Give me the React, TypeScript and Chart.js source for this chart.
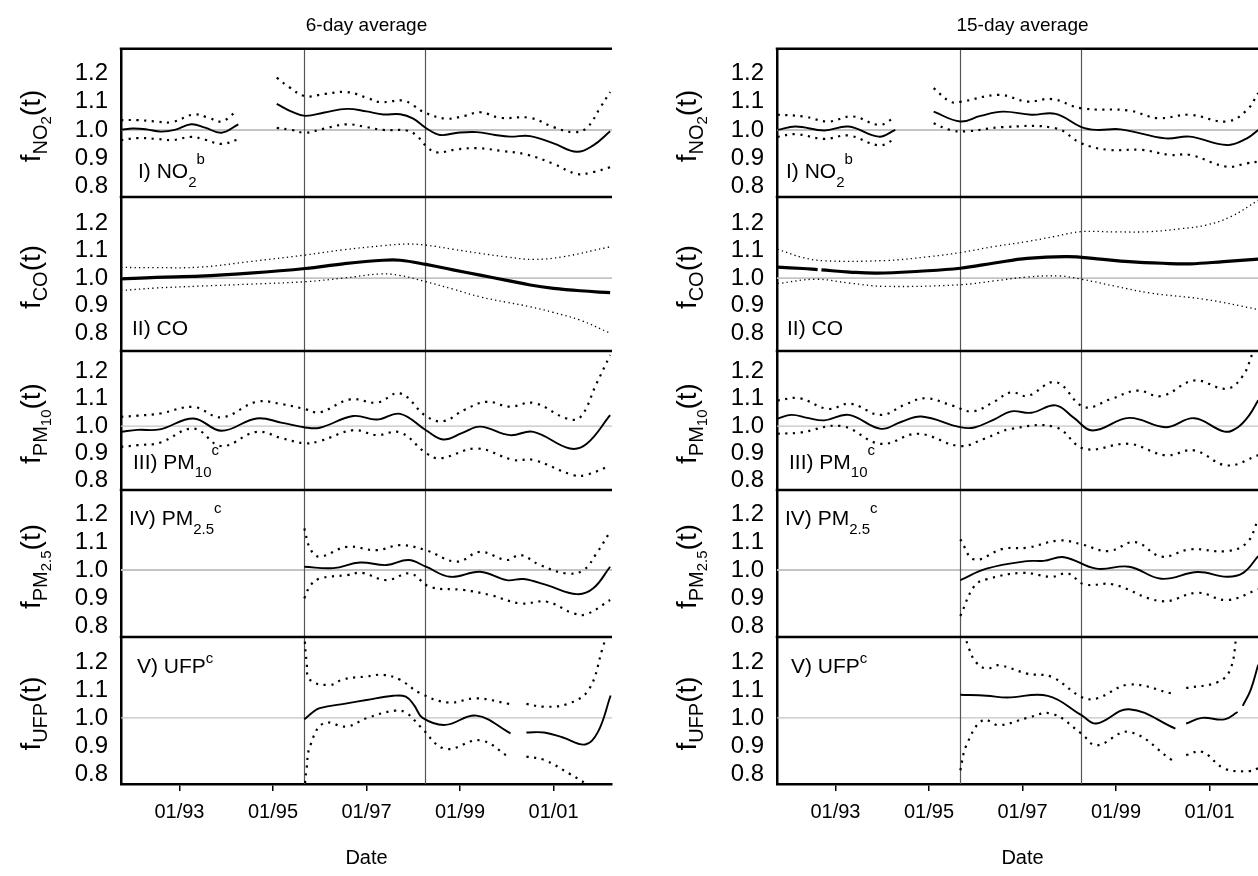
import React, { useEffect, useRef } from 'react';
import { Chart, registerables } from 'chart.js';

Chart.register(...registerables);

type Pt = [number, number | null];
type Seg = { t: string; s: number; dy?: number };

// ---------------- axes / categories ----------------
const X_MIN = 1991.75;
const X_MAX = 2002.25;
const XTICK_VALUES = [1993, 1995, 1997, 1999, 2001];
const XTICK_LABELS = ['01/93', '01/95', '01/97', '01/99', '01/01'];
const YTICK_VALUES = [0.8, 0.9, 1.0, 1.1, 1.2];
const REFERENCE_LEVEL = 1.0;
const EVENT_DATES = [1995.67, 1998.26];
const COLUMN_TITLES = ['6-day average', '15-day average'];
const X_TITLE = 'Date';

// ---------------- 6-day average (left column) ----------------
const L_NO2_EST: Pt[] = [[1991.75, 1.0], [1992.0, 1.005], [1992.3, 1.002], [1992.6, 0.994], [1992.9, 1.0], [1993.25, 1.02], [1993.55, 1.008], [1993.9, 0.99], [1994.26, 1.02], [1994.6, null], [1995.08, 1.093], [1995.4, 1.065], [1995.69, 1.05], [1996.1, 1.062], [1996.58, 1.075], [1997.0, 1.066], [1997.36, 1.055], [1997.72, 1.056], [1998.0, 1.04], [1998.27, 1.007], [1998.57, 0.982], [1998.95, 0.99], [1999.36, 0.992], [1999.75, 0.982], [2000.07, 0.976], [2000.5, 0.978], [2001.0, 0.952], [2001.5, 0.922], [2001.85, 0.945], [2002.21, 0.995]];
const L_NO2_HI: Pt[] = [[1991.75, 1.035], [1992.1, 1.035], [1992.5, 1.03], [1992.85, 1.028], [1993.3, 1.055], [1993.6, 1.045], [1993.9, 1.03], [1994.22, 1.067], [1994.6, null], [1995.08, 1.186], [1995.35, 1.152], [1995.69, 1.12], [1996.1, 1.128], [1996.58, 1.135], [1997.0, 1.115], [1997.29, 1.099], [1997.79, 1.105], [1998.0, 1.087], [1998.27, 1.06], [1998.71, 1.04], [1999.1, 1.05], [1999.43, 1.063], [1999.86, 1.043], [2000.5, 1.043], [2001.0, 1.01], [2001.43, 0.992], [2001.71, 1.007], [2002.0, 1.08], [2002.21, 1.135]];
const L_NO2_LO: Pt[] = [[1991.75, 0.964], [1992.1, 0.971], [1992.5, 0.968], [1992.85, 0.964], [1993.25, 0.975], [1993.55, 0.965], [1993.9, 0.95], [1994.22, 0.964], [1994.6, null], [1995.08, 1.007], [1995.4, 1.0], [1995.69, 0.99], [1996.1, 1.005], [1996.58, 1.02], [1997.0, 1.01], [1997.36, 1.0], [1997.86, 0.998], [1998.07, 0.98], [1998.29, 0.94], [1998.5, 0.92], [1998.9, 0.93], [1999.36, 0.935], [1999.9, 0.925], [2000.43, 0.912], [2001.0, 0.879], [2001.5, 0.843], [2001.85, 0.85], [2002.21, 0.867]];

const L_CO_EST: Pt[] = [[1991.75, 0.997], [1992.5, 1.003], [1993.44, 1.007], [1994.5, 1.018], [1995.69, 1.035], [1996.5, 1.052], [1997.36, 1.065], [1997.72, 1.065], [1998.27, 1.05], [1998.85, 1.03], [1999.43, 1.011], [2000.0, 0.992], [2000.5, 0.975], [2001.0, 0.963], [2001.57, 0.954], [2002.21, 0.947]];
const L_CO_HI: Pt[] = [[1991.75, 1.039], [1992.5, 1.038], [1993.44, 1.04], [1994.5, 1.06], [1995.69, 1.084], [1996.5, 1.103], [1997.36, 1.118], [1997.86, 1.124], [1998.27, 1.12], [1998.85, 1.105], [1999.43, 1.09], [2000.0, 1.077], [2000.57, 1.068], [2001.21, 1.078], [2002.21, 1.114]];
const L_CO_LO: Pt[] = [[1991.75, 0.955], [1992.5, 0.964], [1993.44, 0.971], [1994.5, 0.978], [1995.69, 0.987], [1996.5, 1.0], [1997.29, 1.015], [1997.7, 1.01], [1998.27, 0.987], [1998.85, 0.96], [1999.43, 0.932], [2000.0, 0.912], [2000.5, 0.896], [2001.0, 0.875], [2001.57, 0.847], [2002.21, 0.8]];

const L_PM10_EST: Pt[] = [[1991.75, 0.979], [1992.1, 0.986], [1992.58, 0.988], [1993.3, 1.028], [1993.9, 0.983], [1994.65, 1.028], [1995.2, 1.012], [1995.69, 0.995], [1996.0, 0.994], [1996.72, 1.037], [1997.22, 1.024], [1997.72, 1.045], [1998.27, 0.985], [1998.64, 0.951], [1999.05, 0.975], [1999.43, 0.998], [2000.07, 0.967], [2000.57, 0.979], [2001.35, 0.918], [2001.71, 0.935], [2002.21, 1.04]];
const L_PM10_HI: Pt[] = [[1991.75, 1.034], [1992.1, 1.038], [1992.58, 1.046], [1993.3, 1.07], [1993.9, 1.032], [1994.65, 1.089], [1995.2, 1.08], [1995.69, 1.062], [1996.0, 1.05], [1996.65, 1.098], [1997.22, 1.086], [1997.72, 1.12], [1998.27, 1.037], [1998.64, 1.018], [1999.1, 1.06], [1999.57, 1.089], [2000.07, 1.071], [2000.57, 1.085], [2001.28, 1.028], [2001.57, 1.032], [2001.92, 1.156], [2002.21, 1.26]];
const L_PM10_LO: Pt[] = [[1991.75, 0.924], [1992.1, 0.93], [1992.58, 0.939], [1993.3, 0.991], [1993.9, 0.927], [1994.65, 0.979], [1995.2, 0.955], [1995.69, 0.937], [1996.0, 0.945], [1996.72, 0.985], [1997.22, 0.967], [1997.72, 0.977], [1998.27, 0.902], [1998.57, 0.882], [1999.36, 0.918], [2000.14, 0.876], [2000.57, 0.876], [2001.43, 0.82], [2001.71, 0.822], [2002.21, 0.855]];

const L_PM25_EST: Pt[] = [[1995.67, 1.012], [1996.29, 1.007], [1996.86, 1.027], [1997.43, 1.018], [1997.9, 1.036], [1998.27, 1.012], [1998.79, 0.976], [1999.43, 0.994], [2000.0, 0.964], [2000.36, 0.968], [2000.86, 0.946], [2001.5, 0.914], [2001.85, 0.935], [2002.21, 1.012]];
const L_PM25_HI: Pt[] = [[1995.67, 1.149], [1995.8, 1.075], [1996.0, 1.048], [1996.58, 1.083], [1997.22, 1.071], [1997.72, 1.089], [1998.27, 1.071], [1998.93, 1.03], [1999.43, 1.065], [2000.0, 1.036], [2000.29, 1.054], [2000.71, 1.018], [2001.28, 0.988], [2001.64, 1.0], [2001.92, 1.06], [2002.21, 1.137]];
const L_PM25_LO: Pt[] = [[1995.67, 0.899], [1995.8, 0.945], [1996.0, 0.97], [1996.58, 0.982], [1996.9, 0.99], [1997.43, 0.964], [1997.93, 0.988], [1998.36, 0.94], [1999.07, 0.929], [1999.64, 0.911], [2000.29, 0.881], [2000.86, 0.887], [2001.43, 0.845], [2001.71, 0.843], [2002.21, 0.893]];

const L_UFP_EST: Pt[] = [[1995.67, 0.995], [1995.85, 1.02], [1996.0, 1.035], [1996.58, 1.052], [1997.0, 1.064], [1997.57, 1.079], [1997.84, 1.076], [1998.02, 1.045], [1998.2, 1.0], [1998.68, 0.975], [1999.35, 1.008], [2000.08, 0.945], [2000.25, null], [2000.42, 0.948], [2000.8, 0.948], [2001.2, 0.93], [2001.68, 0.905], [2001.95, 0.95], [2002.22, 1.08]];
const L_UFP_HI: Pt[] = [[1995.67, 1.3], [1995.72, 1.2], [1995.79, 1.136], [1996.22, 1.118], [1996.5, 1.138], [1997.0, 1.148], [1997.36, 1.154], [1997.72, 1.136], [1998.15, 1.088], [1998.75, 1.055], [1999.35, 1.07], [2000.05, 1.05], [2000.25, null], [2000.42, 1.05], [2000.8, 1.04], [2001.3, 1.05], [2001.75, 1.1], [2002.05, 1.25], [2002.15, 1.31]];
const L_UFP_LO: Pt[] = [[1995.67, 0.74], [1995.72, 0.82], [1995.79, 0.898], [1996.08, 0.981], [1996.58, 0.969], [1997.0, 0.999], [1997.61, 1.026], [1997.86, 1.017], [1998.15, 0.969], [1998.68, 0.89], [1999.43, 0.92], [2000.05, 0.86], [2000.25, null], [2000.42, 0.862], [2000.8, 0.85], [2001.35, 0.8], [2001.7, 0.765], [2002.0, 0.74]];

// ---------------- 15-day average (right column) ----------------
const R_NO2_EST: Pt[] = [[1991.76, 1.0], [1992.15, 1.012], [1992.76, 0.998], [1993.28, 1.012], [1993.93, 0.976], [1994.28, 1.0], [1994.7, null], [1995.1, 1.065], [1995.67, 1.03], [1996.1, 1.05], [1996.58, 1.065], [1997.19, 1.054], [1997.71, 1.057], [1998.26, 1.01], [1998.58, 1.0], [1999.1, 1.002], [2000.06, 0.97], [2000.58, 0.976], [2001.37, 0.946], [2001.8, 0.97], [2002.04, 1.0]];
const R_NO2_HI: Pt[] = [[1991.76, 1.054], [1992.32, 1.048], [1992.84, 1.03], [1993.37, 1.048], [1993.93, 1.018], [1994.25, 1.042], [1994.7, null], [1995.1, 1.149], [1995.45, 1.101], [1995.67, 1.1], [1996.5, 1.125], [1997.1, 1.101], [1997.63, 1.11], [1998.26, 1.077], [1999.28, 1.069], [1999.89, 1.042], [2000.58, 1.054], [2001.37, 1.03], [2001.8, 1.071], [2002.04, 1.131]];
const R_NO2_LO: Pt[] = [[1991.76, 0.975], [1992.15, 0.985], [1992.76, 0.968], [1993.28, 0.98], [1993.93, 0.945], [1994.25, 0.965], [1994.7, null], [1995.1, 1.024], [1995.45, 1.0], [1995.8, 0.995], [1996.58, 1.01], [1997.71, 1.006], [1998.26, 0.952], [1998.84, 0.929], [1999.54, 0.929], [2000.15, 0.911], [2000.58, 0.911], [2001.37, 0.869], [2001.8, 0.881], [2002.04, 0.887]];

const R_CO_EST: Pt[] = [[1991.76, 1.04], [1992.3, 1.035], [1992.62, 1.031], [1992.66, null], [1992.7, 1.03], [1993.3, 1.022], [1993.89, 1.018], [1994.8, 1.025], [1995.67, 1.036], [1996.4, 1.055], [1997.1, 1.072], [1997.97, 1.078], [1998.6, 1.07], [1999.28, 1.06], [2000.0, 1.054], [2000.58, 1.052], [2001.3, 1.06], [2002.04, 1.069]];
const R_CO_HI: Pt[] = [[1991.76, 1.105], [1992.3, 1.075], [1992.76, 1.063], [1994.06, 1.064], [1995.0, 1.078], [1995.67, 1.093], [1996.4, 1.115], [1997.1, 1.133], [1997.7, 1.152], [1998.26, 1.169], [1999.0, 1.168], [1999.72, 1.169], [2000.4, 1.18], [2000.93, 1.193], [2001.45, 1.223], [2002.04, 1.283]];
const R_CO_LO: Pt[] = [[1991.76, 0.98], [1992.58, 0.996], [1993.3, 0.982], [1994.06, 0.97], [1995.67, 0.976], [1996.4, 0.99], [1997.1, 1.004], [1997.79, 1.008], [1998.26, 0.996], [1999.0, 0.97], [1999.72, 0.946], [2000.93, 0.922], [2002.04, 0.886]];

const R_PM10_EST: Pt[] = [[1991.76, 1.027], [1992.06, 1.041], [1992.4, 1.03], [1992.76, 1.021], [1993.28, 1.041], [1993.97, 0.99], [1994.4, 1.015], [1994.84, 1.035], [1995.67, 0.996], [1995.97, 0.995], [1996.4, 1.025], [1996.76, 1.054], [1997.19, 1.049], [1997.71, 1.076], [1998.1, 1.03], [1998.5, 0.984], [1999.28, 1.03], [2000.06, 0.996], [2000.67, 1.029], [2001.32, 0.98], [2001.6, 0.995], [2001.85, 1.04], [2002.04, 1.095]];
const R_PM10_HI: Pt[] = [[1991.76, 1.094], [1992.23, 1.102], [1992.84, 1.063], [1993.32, 1.082], [1993.97, 1.041], [1994.5, 1.08], [1994.93, 1.102], [1995.5, 1.075], [1995.93, 1.054], [1996.4, 1.09], [1996.76, 1.124], [1997.1, 1.11], [1997.71, 1.161], [1998.32, 1.07], [1998.9, 1.1], [1999.45, 1.13], [1999.97, 1.11], [2000.67, 1.167], [2001.37, 1.137], [2001.72, 1.186], [2001.93, 1.27], [2002.04, 1.3]];
const R_PM10_LO: Pt[] = [[1991.76, 0.972], [1992.23, 0.976], [1993.13, 1.0], [1993.97, 0.935], [1994.76, 0.972], [1995.67, 0.927], [1996.2, 0.955], [1996.76, 0.99], [1997.71, 0.996], [1998.32, 0.917], [1999.28, 0.935], [2000.06, 0.893], [2000.67, 0.911], [2001.37, 0.856], [2002.04, 0.893]];

const R_PM25_EST: Pt[] = [[1995.67, 0.964], [1996.23, 1.005], [1997.1, 1.032], [1997.45, 1.033], [1997.89, 1.046], [1998.58, 1.005], [1999.28, 1.012], [1999.97, 0.969], [2000.75, 0.993], [2001.37, 0.976], [2001.72, 0.99], [2002.04, 1.05]];
const R_PM25_HI: Pt[] = [[1995.67, 1.11], [1995.97, 1.038], [1996.58, 1.076], [1997.1, 1.08], [1997.8, 1.106], [1998.26, 1.092], [1998.84, 1.068], [1999.41, 1.1], [1999.97, 1.048], [2000.58, 1.074], [2001.37, 1.068], [2001.8, 1.098], [2002.04, 1.181]];
const R_PM25_LO: Pt[] = [[1995.67, 0.836], [1995.97, 0.943], [1996.23, 0.967], [1997.0, 0.99], [1997.63, 0.976], [1997.97, 0.988], [1998.32, 0.949], [1998.93, 0.949], [1999.97, 0.889], [2000.75, 0.919], [2001.37, 0.893], [2002.04, 0.931]];

const R_UFP_EST: Pt[] = [[1995.67, 1.083], [1996.23, 1.079], [1996.67, 1.073], [1997.54, 1.079], [1998.26, 1.01], [1998.58, 0.98], [1999.28, 1.031], [2000.27, 0.962], [2000.38, null], [2000.5, 0.98], [2000.84, 1.0], [2001.32, 0.995], [2001.6, 1.021], [2001.65, null], [2001.71, 1.043], [2001.88, 1.1], [2002.04, 1.19]];
const R_UFP_HI: Pt[] = [[1995.76, 1.3], [1995.85, 1.25], [1996.0, 1.2], [1996.23, 1.176], [1996.5, 1.188], [1997.1, 1.158], [1997.63, 1.146], [1998.26, 1.075], [1998.58, 1.069], [1999.28, 1.119], [2000.2, 1.087], [2000.38, null], [2000.5, 1.107], [2001.19, 1.129], [2001.45, 1.176], [2001.58, 1.3]];
const R_UFP_LO: Pt[] = [[1995.67, 0.813], [1995.8, 0.902], [1996.15, 0.992], [1996.5, 0.974], [1997.1, 1.0], [1997.63, 1.015], [1998.26, 0.944], [1998.58, 0.902], [1999.28, 0.95], [2000.2, 0.849], [2000.38, null], [2000.5, 0.867], [2000.84, 0.879], [2001.32, 0.819], [2001.84, 0.81], [2002.04, 0.82]];

// ---------------- texts ----------------
const Y_TITLES: Seg[][] = [
  [{ t: 'f', s: 28 }, { t: 'NO', s: 20, dy: 7 }, { t: '2', s: 15, dy: 11 }, { t: '(t)', s: 28 }],
  [{ t: 'f', s: 28 }, { t: 'CO', s: 20, dy: 7 }, { t: '(t)', s: 28 }],
  [{ t: 'f', s: 28 }, { t: 'PM', s: 20, dy: 7 }, { t: '10', s: 15, dy: 11 }, { t: '(t)', s: 28 }],
  [{ t: 'f', s: 28 }, { t: 'PM', s: 20, dy: 7 }, { t: '2.5', s: 15, dy: 11 }, { t: '(t)', s: 28 }],
  [{ t: 'f', s: 28 }, { t: 'UFP', s: 20, dy: 7 }, { t: '(t)', s: 28 }],
];
const PANEL_LABELS: Seg[][] = [
  [{ t: 'I) NO', s: 21 }, { t: '2', s: 15, dy: 9 }, { t: 'b', s: 15, dy: -14 }],
  [{ t: 'II) CO', s: 21 }],
  [{ t: 'III) PM', s: 21 }, { t: '10', s: 15, dy: 8 }, { t: 'c', s: 15, dy: -14 }],
  [{ t: 'IV) PM', s: 21 }, { t: '2.5', s: 15, dy: 9 }, { t: 'c', s: 15, dy: -12 }],
  [{ t: 'V) UFP', s: 21 }, { t: 'c', s: 15, dy: -10 }],
];

const SERIES: Pt[][][][] = [
  [
    [L_NO2_EST, L_NO2_LO, L_NO2_HI],
    [L_CO_EST, L_CO_LO, L_CO_HI],
    [L_PM10_EST, L_PM10_LO, L_PM10_HI],
    [L_PM25_EST, L_PM25_LO, L_PM25_HI],
    [L_UFP_EST, L_UFP_LO, L_UFP_HI],
  ],
  [
    [R_NO2_EST, R_NO2_LO, R_NO2_HI],
    [R_CO_EST, R_CO_LO, R_CO_HI],
    [R_PM10_EST, R_PM10_LO, R_PM10_HI],
    [R_PM25_EST, R_PM25_LO, R_PM25_HI],
    [R_UFP_EST, R_UFP_LO, R_UFP_HI],
  ],
];

// ---------------- layout ----------------
const FONT = "'Liberation Sans', Arial, Helvetica, sans-serif";
const PAGE_W = 1258;
const PAGE_H = 876;
const COL_LEFT = [0, 656];
const AXIS_W = 121;
const CANVAS_W = 620;
const PAD = 3;
const PANEL_TOP = [49, 197, 351, 490, 637];
const PANEL_BOTTOM = [197, 351, 490, 637, 784];
const Y_RANGE = [[0.761, 1.289], [0.735, 1.295], [0.766, 1.275], [0.761, 1.286], [0.764, 1.289]];
const LABEL_DX = [[17, 11, 12, 8, 16], [9, 10, 12, 8, 14]];
const LABEL_BASE = [178, 335, 469, 525, 673];
const TITLE_X = 40;
const REF_WIDTH = [2, 1.6, 1.4, 2, 1.2];

function drawSegs(ctx: CanvasRenderingContext2D, x: number, y: number, segs: Seg[]) {
  let cx = x;
  for (const s of segs) {
    ctx.font = `${s.s}px ${FONT}`;
    ctx.fillText(s.t, cx, y + (s.dy || 0));
    cx += ctx.measureText(s.t).width;
  }
}
function segsWidth(ctx: CanvasRenderingContext2D, segs: Seg[]) {
  let w = 0;
  for (const s of segs) {
    ctx.font = `${s.s}px ${FONT}`;
    w += ctx.measureText(s.t).width;
  }
  return w;
}

const decorPlugin = {
  id: 'panelDecor',
  beforeDatasetsDraw(chart: any, _a: any, opts: any) {
    const { ctx, chartArea: a, scales } = chart;
    const x = scales.x, y = scales.y;
    ctx.save();
    ctx.strokeStyle = '#c4c4c4';
    ctx.lineWidth = opts.refWidth;
    const yy = y.getPixelForValue(REFERENCE_LEVEL);
    ctx.beginPath(); ctx.moveTo(a.left, yy); ctx.lineTo(a.right, yy); ctx.stroke();
    ctx.strokeStyle = '#555';
    ctx.lineWidth = 1.2;
    for (const d of EVENT_DATES) {
      const px = Math.round(x.getPixelForValue(d)) + 0.5;
      ctx.beginPath(); ctx.moveTo(px, a.top); ctx.lineTo(px, a.bottom); ctx.stroke();
    }
    ctx.restore();
  },
  afterDraw(chart: any, _a: any, opts: any) {
    const { ctx, chartArea: a } = chart;
    ctx.save();
    ctx.strokeStyle = '#000';
    ctx.lineWidth = 2.5;
    ctx.beginPath(); ctx.moveTo(a.left - 1.25, a.top); ctx.lineTo(a.right, a.top); ctx.stroke();
    ctx.fillStyle = '#000';
    ctx.textBaseline = 'alphabetic';
    ctx.textAlign = 'left';
    drawSegs(ctx, a.left + opts.labelDx, opts.labelY, opts.label);
    ctx.translate(TITLE_X, opts.titleY);
    ctx.rotate(-Math.PI / 2);
    const w = segsWidth(ctx, opts.title);
    drawSegs(ctx, -w / 2, 0, opts.title);
    ctx.restore();
  },
};

function Panel({ col, idx }: { col: number; idx: number }) {
  const ref = useRef<HTMLCanvasElement>(null);
  const isFirst = idx === 0;
  const isLast = idx === 4;
  const canvasTop = isFirst ? 0 : PANEL_TOP[idx] - PAD;
  const canvasBottom = isLast ? PAGE_H : PANEL_BOTTOM[idx] + PAD;
  const h = canvasBottom - canvasTop;

  useEffect(() => {
    const [est, lo, hi] = SERIES[col][idx];
    const thickCO = idx === 1;
    const toXY = (arr: Pt[]) => arr.map(([x, y]) => ({ x, y }));
    const dotted = (arr: Pt[]) => ({
      data: toXY(arr),
      borderColor: '#000',
      borderWidth: thickCO ? 1.3 : 2.2,
      borderDash: thickCO ? [1.3, 3.2] : [2.2, 5.5],
      pointRadius: 0,
      tension: 0.4,
      spanGaps: false,
      clip: 0,
    });
    const chart = new Chart(ref.current as HTMLCanvasElement, {
      type: 'line',
      data: {
        datasets: [
          dotted(lo),
          dotted(hi),
          {
            data: toXY(est),
            borderColor: '#000',
            borderWidth: thickCO ? 3.2 : 1.9,
            pointRadius: 0,
            tension: 0.4,
            spanGaps: false,
            clip: 0,
          },
        ] as any,
      },
      options: {
        animation: false,
        responsive: false,
        maintainAspectRatio: false,
        events: [],
        layout: { padding: { top: isFirst ? 0 : PAD, bottom: isLast ? 0 : PAD, left: 0, right: 8 } },
        plugins: {
          legend: { display: false },
          tooltip: { enabled: false },
          title: {
            display: isFirst,
            text: COLUMN_TITLES[col],
            fullSize: false,
            color: '#000',
            font: { family: FONT, size: 19, weight: 'normal' },
            padding: { top: 14, bottom: 12 },
          },
          panelDecor: {
            refWidth: REF_WIDTH[idx],
            label: PANEL_LABELS[idx],
            labelDx: LABEL_DX[col][idx],
            labelY: LABEL_BASE[idx] - canvasTop,
            title: Y_TITLES[idx],
            titleY: (PANEL_TOP[idx] + PANEL_BOTTOM[idx]) / 2 + 3 - canvasTop,
          },
        } as any,
        scales: {
          x: {
            type: 'linear',
            min: X_MIN,
            max: X_MAX,
            display: isLast,
            afterBuildTicks: (s: any) => {
              s.ticks = XTICK_VALUES.map((v) => ({ value: v }));
            },
            afterFit: (s: any) => {
              s.height = isLast ? PAGE_H - PANEL_BOTTOM[4] : 0;
              s.paddingLeft = 0;
              s.paddingRight = 0;
            },
            ticks: {
              autoSkip: false,
              maxRotation: 0,
              color: '#000',
              padding: 9,
              font: { family: FONT, size: 20 },
              callback: (v: any) => {
                const i = XTICK_VALUES.indexOf(Number(v));
                return i >= 0 ? XTICK_LABELS[i] : '';
              },
            },
            grid: { display: true, drawOnChartArea: false, drawTicks: true, tickLength: 7, color: '#000', lineWidth: 1.5 },
            border: { display: true, color: '#000', width: 2.5 },
            title: {
              display: true,
              text: X_TITLE,
              color: '#000',
              font: { family: FONT, size: 20 },
              padding: { top: 0, bottom: 6 },
            },
          },
          y: {
            type: 'linear',
            min: Y_RANGE[idx][0],
            max: Y_RANGE[idx][1],
            afterBuildTicks: (s: any) => {
              s.ticks = YTICK_VALUES.map((v) => ({ value: v }));
            },
            afterFit: (s: any) => {
              s.width = AXIS_W;
              s.paddingTop = 0;
              s.paddingBottom = 0;
            },
            ticks: {
              color: '#000',
              padding: 13,
              autoSkip: false,
              font: { family: FONT, size: 24 },
              callback: (v: any) => Number(v).toFixed(1),
            },
            grid: { display: true, drawOnChartArea: false, drawTicks: false },
            border: { display: true, color: '#000', width: 2.5 },
          },
        } as any,
      },
      plugins: [decorPlugin as any],
    });
    return () => chart.destroy();
  }, [col, idx]);

  return (
    <canvas
      ref={ref}
      width={CANVAS_W}
      height={h}
      style={{ position: 'absolute', left: COL_LEFT[col], top: canvasTop, width: CANVAS_W, height: h }}
    />
  );
}

export default function App() {
  return (
    <div
      style={{
        position: 'fixed',
        left: 0,
        top: 0,
        width: PAGE_W,
        height: PAGE_H,
        overflow: 'hidden',
        background: '#fff',
      }}
    >
      {[0, 1].map((col) =>
        [0, 1, 2, 3, 4].map((idx) => <Panel key={`${col}-${idx}`} col={col} idx={idx} />)
      )}
    </div>
  );
}
